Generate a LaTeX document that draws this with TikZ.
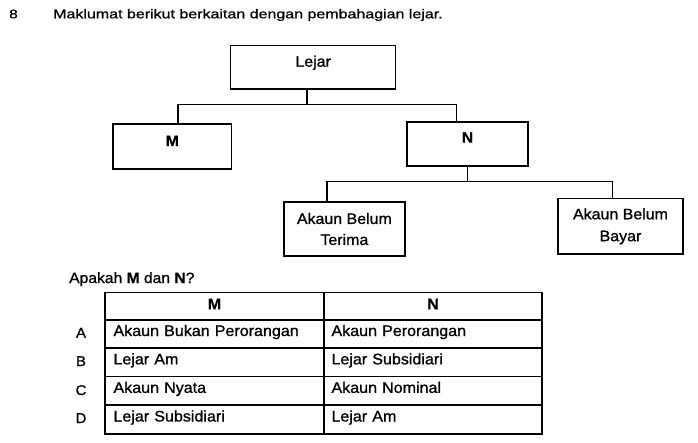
\documentclass[tikz,border=0pt]{standalone}
\usepackage{fontspec}
\setmainfont{Liberation Sans}[FakeStretch=1.05, UprightFeatures={FakeBold=1.0}, BoldFeatures={FakeBold=0.5}]
\newfontfamily\widefont{Liberation Sans}[FakeStretch=1.25, UprightFeatures={FakeBold=0.9}]
\begin{document}
\begin{tikzpicture}[x=1pt,y=-1pt,
  treebox/.style={draw, line width=1.5pt, inner sep=0pt, align=center,
    font=\fontsize{15.2}{21}\selectfont},
  one/.style={text height=10pt, text depth=#1},
  conn/.style={line width=1.2pt},
  cell/.style={draw, line width=1.2pt, inner xsep=8.5pt, inner ysep=0pt,
    text height=10pt, text depth=6pt, align=left,
    font=\fontsize{15.3}{17}\selectfont},
  headcell/.style={cell, align=center, text depth=3.7pt, font=\fontsize{15.3}{17}\selectfont\bfseries},
  rowlab/.style={anchor=base, inner sep=0pt, font=\fontsize{14.2}{16}\selectfont},
  plain/.style={anchor=base west, inner sep=0pt}
]
\useasboundingbox (0,0) rectangle (698,442);

% heading
\node[plain, font=\widefont\fontsize{12.4}{16}\selectfont] (qnum) at (9,18.3) {8};
\node[plain, font=\widefont\fontsize{12.8}{16}\selectfont] (title) at (53,18.3) {Maklumat berikut berkaitan dengan pembahagian lejar.};

% tree
\node[treebox, one=11.3pt, minimum width=165pt, minimum height=43.3pt] (lejar) at (313.2,67.35) {Lejar};
\node[treebox, one=11pt, minimum width=118.7pt, minimum height=45pt, font=\fontsize{15.2}{21}\selectfont\bfseries] (m) at (172.35,146.5) {M};
\node[treebox, one=12.6pt, minimum width=121pt, minimum height=44pt, font=\fontsize{15.2}{21}\selectfont\bfseries] (n) at (467.5,144) {N};
\node[treebox, minimum width=121pt, minimum height=54pt] (abt) at (344.4,229) {Akaun Belum\\Terima};
\node[treebox, minimum width=125pt, minimum height=55.4pt] (abb) at (620.5,226.3) {Akaun Belum\\[0.9pt]Bayar};

\coordinate (j1) at (307,104.5);
\coordinate (j2) at (467.5,181.8);
\draw[conn] ([xshift=-6.2pt]lejar.south) -- (j1);
\draw[conn] ([xshift=5.6pt]m.north) |- (j1) -| ([xshift=-10.8pt]n.north);
\draw[conn] (n.south) -- (j2);
\draw[conn] ([xshift=-17.4pt]abt.north) |- (j2) -| ([xshift=-7.9pt]abb.north);

% question
\node[plain, font=\fontsize{14.9}{16}\selectfont] (ask) at (69,283) {Apakah \textbf{M} dan \textbf{N}?};

% table
\node[headcell, minimum width=219pt, text width=202pt, minimum height=27.7pt] (h1) at (214.5,306.15) {M};
\node[headcell, minimum width=218pt, text width=201pt, minimum height=27.7pt] (h2) at (433,306.15) {N};

\node[cell, minimum width=219pt, text width=202pt, minimum height=28pt] (a1) at (214.5,334) {Akaun Bukan Perorangan};
\node[cell, inner xsep=7.5pt, minimum width=218pt, text width=203pt, minimum height=28pt] (a2) at (433,334) {Akaun Perorangan};

\node[cell, minimum width=219pt, text width=202pt, minimum height=28.7pt] (b1) at (214.5,362.35) {Lejar Am};
\node[cell, inner xsep=7.5pt, minimum width=218pt, text width=203pt, minimum height=28.7pt] (b2) at (433,362.35) {Lejar Subsidiari};

\node[cell, minimum width=219pt, text width=202pt, minimum height=28.3pt] (c1) at (214.5,390.85) {Akaun Nyata};
\node[cell, inner xsep=7.5pt, minimum width=218pt, text width=203pt, minimum height=28.3pt] (c2) at (433,390.85) {Akaun Nominal};

\node[cell, minimum width=219pt, text width=202pt, minimum height=29pt] (d1) at (214.5,419.5) {Lejar Subsidiari};
\node[cell, inner xsep=7.5pt, minimum width=218pt, text width=203pt, minimum height=29pt] (d2) at (433,419.5) {Lejar Am};

\node[rowlab] (la) at (81,337.7) {A};
\node[rowlab] (lb) at (81,366) {B};
\node[rowlab] (lc) at (81,395) {C};
\node[rowlab] (ld) at (81,423) {D};
\end{tikzpicture}
\end{document}
